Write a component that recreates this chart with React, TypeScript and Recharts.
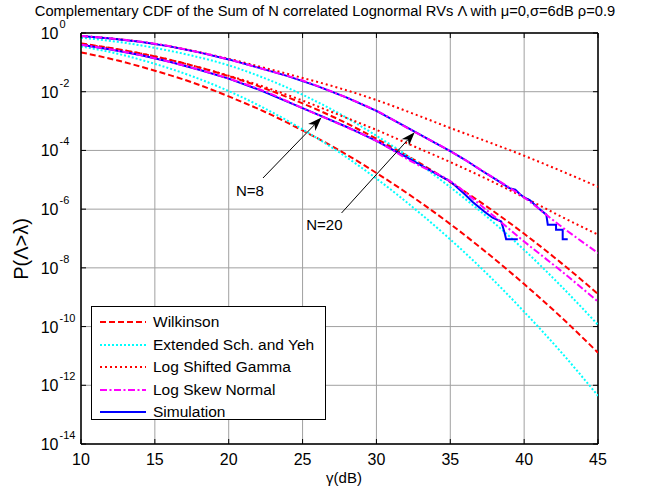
import {
  LineChart,
  Line,
  XAxis,
  YAxis,
  CartesianGrid,
  ReferenceLine,
  Legend,
} from "recharts";

const W = 649;
const H = 488;
const PLOT_LEFT = 81;
const PLOT_RIGHT = 598;
const PLOT_TOP = 33;
const PLOT_BOTTOM = 444;

// gamma (dB) grid of the analytic approximations
const gammaDb = [10, 12.5, 15, 17.5, 20, 22.5, 25, 27.5, 30, 32.5, 35, 37.5, 40, 42.5, 45];

// N = 20
const wilkinsonN20 = [4.4e-1, 2.8e-1, 1.6e-1, 7.9e-2, 3.4e-2, 1.26e-2, 4.0e-3, 1.1e-3, 2.5e-4, 5.0e-5, 8.3e-6, 1.2e-6, 1.45e-7, 1.48e-8, 1.29e-9];
const schYehN20 = [6.9e-1, 5.0e-1, 3.1e-1, 1.7e-1, 7.9e-2, 2.8e-2, 7.9e-3, 1.78e-3, 3.16e-4, 4.8e-5, 5.6e-6, 5.4e-7, 4.1e-8, 2.4e-9, 1.15e-10];
const shiftedGammaN20 = [7.9e-1, 6.2e-1, 4.3e-1, 2.5e-1, 1.32e-1, 6.3e-2, 2.95e-2, 1.32e-2, 5.2e-3, 1.78e-3, 5.8e-4, 2.0e-4, 6.6e-5, 2.0e-5, 5.8e-6];
const skewNormalN20 = [7.9e-1, 6.2e-1, 4.3e-1, 2.5e-1, 1.26e-1, 5.6e-2, 2.4e-2, 7.9e-3, 2.24e-3, 4.5e-4, 9.5e-5, 1.6e-5, 2.5e-6, 2.6e-7, 3.2e-8];

// N = 8
const wilkinsonN8 = [2.19e-1, 1.15e-1, 5.2e-2, 2.1e-2, 6.9e-3, 2.0e-3, 4.8e-4, 1.0e-4, 1.7e-5, 2.5e-6, 3.1e-7, 3.2e-8, 2.8e-9, 2.1e-10, 1.29e-11];
const schYehN8 = [3.5e-1, 1.95e-1, 8.9e-2, 3.4e-2, 1.05e-2, 2.6e-3, 5.2e-4, 8.5e-5, 1.1e-5, 1.12e-6, 9.3e-8, 6.2e-9, 3.2e-10, 1.35e-11, 4.4e-13];
const shiftedGammaN8 = [4.2e-1, 2.75e-1, 1.6e-1, 7.9e-2, 3.5e-2, 1.41e-2, 5.0e-3, 1.6e-3, 5.0e-4, 1.41e-4, 4.0e-5, 1.05e-5, 2.5e-6, 5.6e-7, 1.35e-7];
const skewNormalN8 = [4.0e-1, 2.5e-1, 1.38e-1, 6.6e-2, 2.8e-2, 1.0e-2, 2.75e-3, 7.9e-4, 2.1e-4, 3.9e-5, 8.9e-6, 8.9e-7, 7.9e-8, 7.9e-9, 7.1e-10];

// Monte Carlo simulation (ends where the estimate runs out of samples)
const simGammaN20 = [10, 12, 14, 16, 18, 20, 22, 24, 26, 28, 30, 32, 34, 35, 36, 37, 38, 39, 39.4, 39.7, 40, 40.4, 40.95, 41.5, 41.6, 42.16, 42.16, 42.61, 42.61, 42.95];
const simN20 = [7.9e-1, 6.5e-1, 5.0e-1, 3.5e-1, 2.19e-1, 1.26e-1, 6.6e-2, 3.4e-2, 1.55e-2, 6.3e-3, 2.24e-3, 6.3e-4, 1.78e-4, 9.5e-5, 4.8e-5, 2.24e-5, 1.1e-5, 5.2e-6, 4.6e-6, 3.3e-6, 2.5e-6, 2.0e-6, 1.1e-6, 6.5e-7, 2.95e-7, 2.95e-7, 2.0e-7, 2.0e-7, 9.5e-8, 9.5e-8];
const simGammaN8 = [10, 12, 14, 16, 18, 20, 22, 24, 26, 28, 30, 32, 34, 35, 36, 36.5, 37.3, 37.86, 38.45, 38.67, 38.78, 39.57];
const simN8 = [4.0e-1, 2.75e-1, 1.78e-1, 1.05e-1, 5.6e-2, 2.8e-2, 1.2e-2, 4.5e-3, 1.7e-3, 6.3e-4, 2.1e-4, 6.0e-5, 1.66e-5, 8.9e-6, 3.16e-6, 1.78e-6, 8.3e-7, 5.1e-7, 3.8e-7, 1.6e-7, 9.5e-8, 9.5e-8];

const xTicks = [10, 15, 20, 25, 30, 35, 40, 45];
const yTicks = [1e-14, 1e-12, 1e-10, 1e-8, 1e-6, 1e-4, 1e-2, 1];

const STYLE: Record<string, { color: string; dash?: string }> = {
  wilkinson: { color: "#ff0000", dash: "6 3" },
  schYeh: { color: "#00ffff", dash: "2 2" },
  shiftedGamma: { color: "#ff0000", dash: "2 3" },
  skewNormal: { color: "#ff00ff", dash: "7 2.5 2 2.5" },
  simulation: { color: "#0000ff" },
};

const legendKeys = ["wilkinson", "schYeh", "shiftedGamma", "skewNormal", "simulation"];
const legendLabels = ["Wilkinson", "Extended Sch. and Yeh", "Log Shifted Gamma", "Log Skew Normal", "Simulation"];

const toPoints = (xs: number[], ys: number[]) => xs.map((g, i) => ({ g, p: ys[i] }));

// drawing order: magenta dash-dot sits on top of the blue simulation
const series = [
  { id: "w20", kind: "wilkinson", xs: gammaDb, ys: wilkinsonN20 },
  { id: "w8", kind: "wilkinson", xs: gammaDb, ys: wilkinsonN8 },
  { id: "e20", kind: "schYeh", xs: gammaDb, ys: schYehN20 },
  { id: "e8", kind: "schYeh", xs: gammaDb, ys: schYehN8 },
  { id: "g20", kind: "shiftedGamma", xs: gammaDb, ys: shiftedGammaN20 },
  { id: "g8", kind: "shiftedGamma", xs: gammaDb, ys: shiftedGammaN8 },
  { id: "s20", kind: "simulation", xs: simGammaN20, ys: simN20 },
  { id: "s8", kind: "simulation", xs: simGammaN8, ys: simN8 },
  { id: "k20", kind: "skewNormal", xs: gammaDb, ys: skewNormalN20 },
  { id: "k8", kind: "skewNormal", xs: gammaDb, ys: skewNormalN8 },
];

const annotations = [
  { label: "N=8", from: { x: 22.32, y: 1.15e-5 }, to: { x: 26.28, y: 1.32e-3 } },
  { label: "N=20", from: { x: 27.64, y: 7.4e-7 }, to: { x: 32.59, y: 4.2e-4 } },
];

const FONT = "'Liberation Sans', Arial, Helvetica, sans-serif";

function XTick({ x, payload }: any) {
  return (
    <g>
      <line x1={x} y1={PLOT_BOTTOM} x2={x} y2={PLOT_BOTTOM - 5} stroke="#000" />
      <line x1={x} y1={PLOT_TOP} x2={x} y2={PLOT_TOP + 5} stroke="#000" />
      <text x={x} y={PLOT_BOTTOM + 21} textAnchor="middle" fontSize={16} fontFamily={FONT} fill="#000">
        {payload.value}
      </text>
    </g>
  );
}

function YTick({ y, payload }: any) {
  const exp = Math.round(Math.log10(payload.value));
  return (
    <g>
      <line x1={PLOT_LEFT} y1={y} x2={PLOT_LEFT + 5} y2={y} stroke="#000" />
      <line x1={PLOT_RIGHT} y1={y} x2={PLOT_RIGHT - 5} y2={y} stroke="#000" />
      <text x={58.5} y={y + 6} textAnchor="end" fontSize={16} fontFamily={FONT} fill="#000">
        10
      </text>
      <text x={59.5} y={y - 5} fontSize={11} fontFamily={FONT} fill="#000">
        {exp}
      </text>
    </g>
  );
}

function arrowShape(label: string) {
  return (props: any) => {
    const { x1, y1, x2, y2 } = props;
    const dx = x2 - x1;
    const dy = y2 - y1;
    const len = Math.hypot(dx, dy);
    const ux = dx / len;
    const uy = dy / len;
    const bx = x2 - ux * 14;
    const by = y2 - uy * 14;
    const nx = x2 - ux * 10;
    const ny = y2 - uy * 10;
    const pts = `${x2},${y2} ${bx - uy * 5},${by + ux * 5} ${nx},${ny} ${bx + uy * 5},${by - ux * 5}`;
    return (
      <g>
        <line x1={x1} y1={y1} x2={nx} y2={ny} stroke="#000" strokeWidth={1} />
        <polygon points={pts} fill="#000" />
        <text x={x1 + 1} y={y1 + 17.5} textAnchor="end" fontSize={15} fontFamily={FONT} fill="#000">
          {label}
        </text>
      </g>
    );
  };
}

function LegendBox() {
  return (
    <div
      style={{
        border: "1px solid #000",
        background: "#fff",
        padding: "4px 0 0 8px",
        height: 114,
        boxSizing: "border-box",
        fontFamily: FONT,
        fontSize: 15.5,
        color: "#000",
      }}
    >
      {legendKeys.map((k, i) => (
        <div key={k} style={{ height: 22.5, display: "flex", alignItems: "center" }}>
          <svg width={46} height={6} style={{ marginRight: 7 }}>
            <line x1={0} y1={3} x2={46} y2={3} stroke={STYLE[k].color} strokeWidth={2} strokeDasharray={STYLE[k].dash} />
          </svg>
          <span style={{ lineHeight: "22px", whiteSpace: "nowrap" }}>{legendLabels[i]}</span>
        </div>
      ))}
    </div>
  );
}

export default function App() {
  return (
    <div style={{ position: "relative", width: W, height: H, background: "#fff", fontFamily: FONT }}>
      <style>{`body{margin:0;}`}</style>
      <LineChart width={W} height={H} margin={{ top: PLOT_TOP, right: W - PLOT_RIGHT, bottom: 0, left: 0 }}>
        <CartesianGrid stroke="#a0a0a0" strokeWidth={1} />
        <XAxis
          dataKey="g"
          type="number"
          domain={[10, 45]}
          ticks={xTicks}
          interval={0}
          allowDataOverflow
          height={H - PLOT_BOTTOM}
          tickSize={0}
          tickMargin={0}
          tickLine={false}
          axisLine={{ stroke: "#000", strokeWidth: 1.5 }}
          tick={(p: any) => <XTick {...p} />}
        />
        <YAxis
          type="number"
          scale="log"
          domain={[1e-14, 1]}
          ticks={yTicks}
          interval={0}
          allowDataOverflow
          width={PLOT_LEFT}
          tickSize={0}
          tickMargin={0}
          tickLine={false}
          axisLine={{ stroke: "#000", strokeWidth: 1.5 }}
          tick={(p: any) => <YTick {...p} />}
        />
        <ReferenceLine y={1} stroke="#000" strokeWidth={1.5} />
        <ReferenceLine x={45} stroke="#000" strokeWidth={1.5} />
        {series.map((s) => (
          <Line
            key={s.id}
            data={toPoints(s.xs, s.ys)}
            dataKey="p"
            type={s.kind === "simulation" ? "linear" : "monotone"}
            stroke={STYLE[s.kind].color}
            strokeDasharray={STYLE[s.kind].dash}
            strokeWidth={2}
            dot={false}
            activeDot={false}
            legendType="none"
            isAnimationActive={false}
          />
        ))}
        {annotations.map((a) => (
          <ReferenceLine key={a.label} segment={[a.from, a.to]} shape={arrowShape(a.label)} />
        ))}
        <Legend
          layout="vertical"
          align="center"
          verticalAlign="middle"
          wrapperStyle={{ left: 91, top: 306, width: 235, height: 114 }}
          content={() => <LegendBox />}
        />
      </LineChart>
      <svg width={W} height={H} style={{ position: "absolute", left: 0, top: 0, pointerEvents: "none" }}>
        <text x={325} y={16} textAnchor="middle" fontSize={14.7} fontFamily={FONT} fill="#000">
          Complementary CDF of the Sum of N correlated Lognormal RVs Λ with μ=0,σ=6dB ρ=0.9
        </text>
        <text x={344} y={483} textAnchor="middle" fontSize={15} fontFamily={FONT} fill="#000">
          γ(dB)
        </text>
        <text
          transform="translate(27.5,249) rotate(-90)"
          textAnchor="middle"
          fontSize={20}
          fontFamily={FONT}
          fill="#000"
        >
          P(Λ&gt;λ)
        </text>
      </svg>
    </div>
  );
}
